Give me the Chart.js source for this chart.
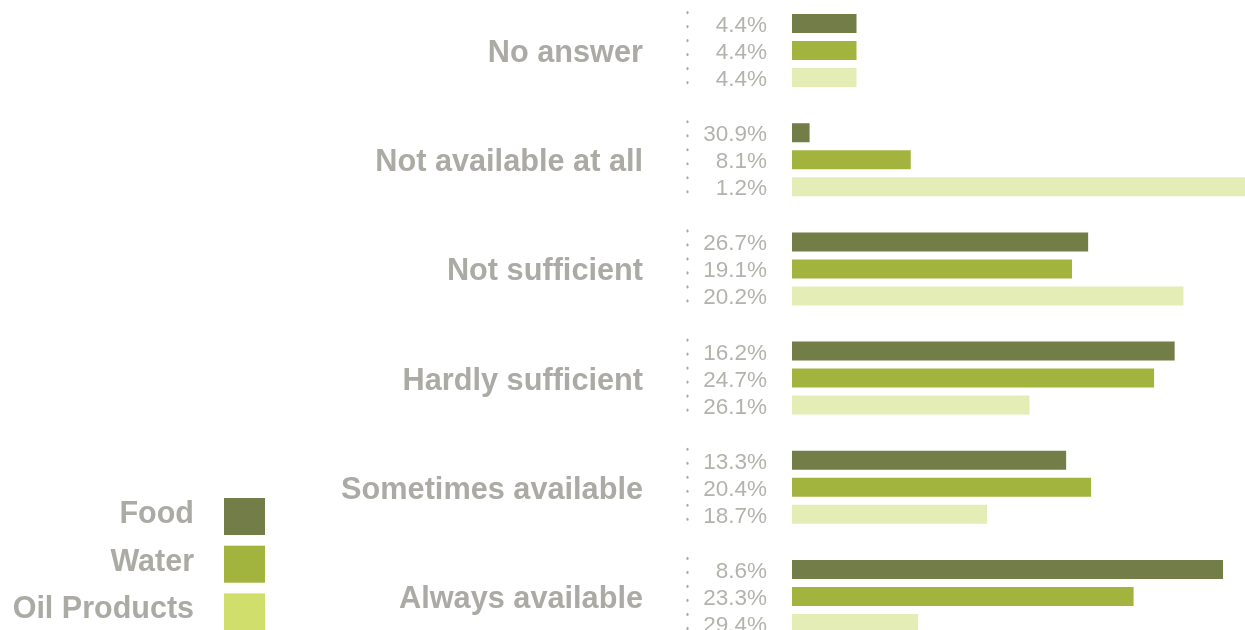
<!DOCTYPE html>
<html>
<head>
<meta charset="utf-8">
<script src="https://cdn.jsdelivr.net/npm/chart.js@4.4.1/dist/chart.umd.min.js"></script>
<style>
  html, body { margin: 0; padding: 0; background: #fff; overflow: hidden; }
  #wrap { position: relative; width: 1245px; height: 630px; overflow: hidden; }
  #chart { position: absolute; left: 0; top: -4px; }
</style>
</head>
<body>
<div id="wrap">
  <canvas id="chart" width="1245" height="655"></canvas>
</div>
<script>
const categories = [
  "No answer",
  "Not available at all",
  "Not sufficient",
  "Hardly sufficient",
  "Sometimes available",
  "Always available",
];
const seriesNames = ["Food", "Water", "Oil Products"];
const food = [4.4, 1.2, 20.2, 26.1, 18.7, 29.4];
const water = [4.4, 8.1, 19.1, 24.7, 20.4, 23.3];
const oil = [4.4, 30.9, 26.7, 16.2, 13.3, 8.6];

const barColors = ["#737d47", "#a2b33e", "#e4edb5"];
const swatchColors = ["#737d47", "#a2b33e", "#d0de6c"];
const labelGray = "#abaaa4";
const valueGray = "#b3b3ad";
const dotGray = "#a9a9ae";

const series = [food, water, oil];
const xMax = Math.max(...food, ...water, ...oil);

const sansFamily = "'Liberation Sans', Arial, sans-serif";

// category names, value column, dotted separators and the legend block
const sidePlugin = {
  id: "side",
  afterDatasetsDraw(chart) {
    const { ctx } = chart;
    const yScale = chart.scales.y;
    ctx.save();

    // category names right-aligned left of the dots
    ctx.font = "bold 30.7px " + sansFamily;
    ctx.fillStyle = labelGray;
    ctx.textAlign = "right";
    ctx.textBaseline = "middle";
    categories.forEach((name, i) => {
      ctx.fillText(name, 643, yScale.getPixelForValue(i) + 3);
    });

    // dotted separator per category group
    ctx.fillStyle = dotGray;
    categories.forEach((_, i) => {
      const cy = yScale.getPixelForValue(i);
      for (let k = 0; k < 6; k++) {
        ctx.beginPath();
        ctx.ellipse(687.5, cy - 38 + 14 * k, 1.1, 1.6, 0, 0, Math.PI * 2);
        ctx.fill();
      }
    });

    // percentage labels, listed bottom series first
    ctx.font = "22.5px " + sansFamily;
    ctx.fillStyle = valueGray;
    ctx.textBaseline = "alphabetic";
    categories.forEach((_, i) => {
      for (let r = 0; r < series.length; r++) {
        const bar = chart.getDatasetMeta(r).data[i];
        const v = series[series.length - 1 - r][i];
        ctx.fillText(v.toFixed(1) + "%", 767, bar.y + 8.5);
      }
    });

    // legend: text right-aligned, swatch on the right
    ctx.font = "bold 30.5px " + sansFamily;
    const top = 502;
    seriesNames.forEach((name, s) => {
      const y = top + s * 47.7;
      ctx.fillStyle = swatchColors[s];
      ctx.fillRect(224, y, 41, 37);
      ctx.fillStyle = labelGray;
      ctx.fillText(name, 194, y + 25);
    });

    ctx.restore();
  },
};

const ctx = document.getElementById("chart").getContext("2d");
new Chart(ctx, {
  type: "bar",
  data: {
    labels: categories,
    datasets: seriesNames.map((name, s) => ({
      label: name,
      data: series[s],
      backgroundColor: barColors[s],
      borderWidth: 0,
      categoryPercentage: 0.742,
      barPercentage: 0.704,
    })),
  },
  options: {
    indexAxis: "y",
    responsive: false,
    animation: false,
    devicePixelRatio: 1,
    layout: { padding: { left: 792, right: 0, top: 0, bottom: 0 } },
    plugins: {
      legend: { display: false },
      tooltip: { enabled: false },
    },
    scales: {
      x: {
        display: false,
        min: 0,
        max: xMax,
      },
      y: {
        display: false,
      },
    },
  },
  plugins: [sidePlugin],
});
</script>
</body>
</html>
